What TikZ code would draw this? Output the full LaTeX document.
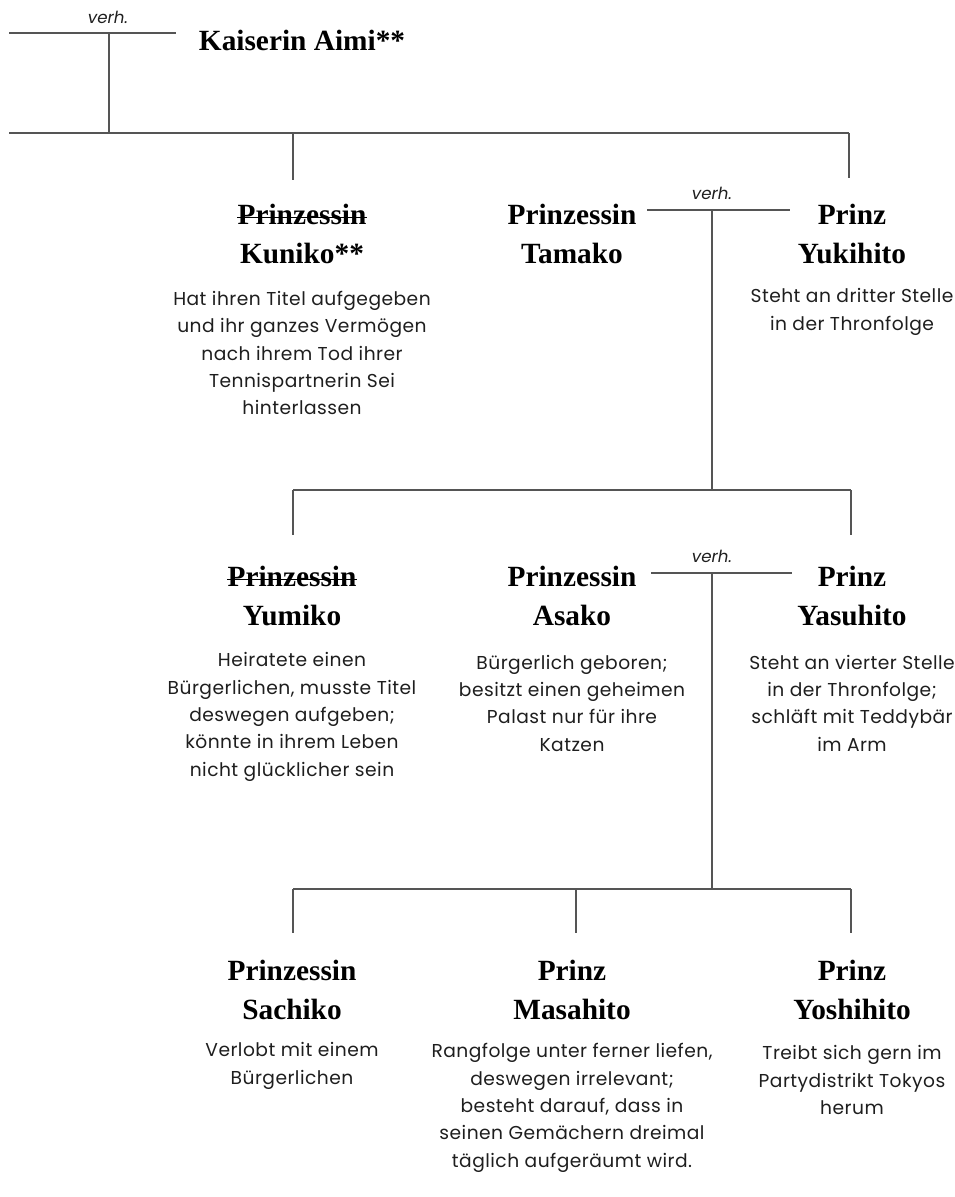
\documentclass[tikz,border=0pt]{standalone}
\usepackage{fontspec}
\setmainfont{Poppins}
\newfontfamily\namefont{Liberation Serif}
\newfontfamily\descfont{Poppins}[LetterSpace=2.5]
\usepackage{tikz}
\usetikzlibrary{positioning}
\definecolor{lineGray}{HTML}{555555}
\definecolor{txtDark}{HTML}{1E1E1E}
\tikzset{nm/.style={inner sep=0pt, align=center, text=black,
  font=\namefont\bfseries\fontsize{22}{29}\selectfont}}
\tikzset{ds/.style={inner sep=0pt, align=center, text=txtDark,
  font=\descfont\fontsize{14}{20.5}\selectfont}}
\tikzset{vh/.style={inner sep=0pt, text=txtDark,
  font=\itshape\fontsize{12.5}{14}\selectfont}}
\tikzset{ln/.style={draw, lineGray, line width=1pt}}
\tikzset{st/.style={draw, black, line width=1.1pt}}

\begin{document}
\begin{tikzpicture}[x=0.75pt,y=-0.75pt]
        \useasboundingbox (0,0) rectangle (955,1197);
        %% Kaiserin
        \coordinate (k0) at (9,33);
        \coordinate (k1) at (176,33);
        \coordinate (k2) at (109,33);
        \coordinate (k3) at (109,133);
        \node (v0) at (108,17) [vh] {verh.};
        \node (aimi) at (302,40) [nm] {Kaiserin Aimi**};
        \draw [ln] (k0) to (k1);
        \draw [ln] (k2) to (k3);
        %% erste Generation
        \coordinate (r0) at (9,133);
        \coordinate (r1) at (849,133);
        \coordinate (kt) at (293,133);
        \coordinate (kb) at (293,180);
        \coordinate (yb) at (849,178);
        \draw [ln] (r0) to (r1);
        \draw [ln] (kt) to (kb);
        \draw [ln] (r1) to (yb);
        \node (kuniko) at (302,234) [nm] {Prinzessin\\Kuniko**};
        \node (tamako) at (572,234) [nm] {Prinzessin\\Tamako};
        \node (yukihito) at (852,234) [nm] {Prinz\\Yukihito};
        \draw [st] ([yshift=-10pt]kuniko.north west) to ([yshift=-10pt]kuniko.north east);
        \node (kunikoD) at (302,353) [ds] {Hat ihren Titel aufgegeben\\und ihr ganzes Verm\"ogen\\nach ihrem Tod ihrer\\Tennispartnerin Sei\\hinterlassen};
        \node (yukihitoD) at (852,312) [ds] {Steht an dritter Stelle\\in der Thronfolge};
        \coordinate (e0) at (647,210);
        \coordinate (e1) at (790,210);
        \coordinate (e2) at (712,210);
        \coordinate (e3) at (712,490);
        \node (v1) at (712,193) [vh] {verh.};
        \draw [ln] (e0) to (e1);
        \draw [ln] (e2) to (e3);
        %% zweite Generation
        \coordinate (s0) at (293,490);
        \coordinate (s1) at (851,490);
        \coordinate (s2) at (293,535);
        \coordinate (s3) at (851,535);
        \draw [ln] (s0) to (s1);
        \draw [ln] (s0) to (s2);
        \draw [ln] (s1) to (s3);
        \node (yumiko) at (292,596) [nm] {Prinzessin\\Yumiko};
        \node (asako) at (572,596) [nm] {Prinzessin\\Asako};
        \node (yasuhito) at (852,596) [nm] {Prinz\\Yasuhito};
        \draw [st] ([yshift=-10pt]yumiko.north west) to ([yshift=-10pt]yumiko.north east);
        \node (yumikoD) at (292,717) [ds] {Heiratete einen\\B\"urgerlichen, musste Titel\\deswegen aufgeben;\\k\"onnte in ihrem Leben\\nicht gl\"ucklicher sein};
        \node (asakoD) at (572,703) [ds] {B\"urgerlich geboren;\\besitzt einen geheimen\\Palast nur f\"ur ihre\\Katzen};
        \node (yasuhitoD) at (852,703) [ds] {Steht an vierter Stelle\\in der Thronfolge;\\schl\"aft mit Teddyb\"ar\\im Arm};
        \coordinate (f0) at (651,573);
        \coordinate (f1) at (792,573);
        \coordinate (f2) at (712,573);
        \coordinate (f3) at (712,889);
        \node (v2) at (712,556) [vh] {verh.};
        \draw [ln] (f0) to (f1);
        \draw [ln] (f2) to (f3);
        %% dritte Generation
        \coordinate (t0) at (293,889);
        \coordinate (t1) at (851,889);
        \coordinate (tm) at (576,889);
        \coordinate (t2) at (293,933);
        \coordinate (t3) at (851,933);
        \coordinate (t4) at (576,933);
        \draw [ln] (t0) to (t1);
        \draw [ln] (t0) to (t2);
        \draw [ln] (tm) to (t4);
        \draw [ln] (t1) to (t3);
        \node (sachiko) at (292,990) [nm] {Prinzessin\\Sachiko};
        \node (masahito) at (572,990) [nm] {Prinz\\Masahito};
        \node (yoshihito) at (852,990) [nm] {Prinz\\Yoshihito};
        \node (sachikoD) at (292,1066) [ds] {Verlobt mit einem\\B\"urgerlichen};
        \node (masahitoD) at (572,1108) [ds] {Rangfolge unter ferner liefen,\\deswegen irrelevant;\\besteht darauf, dass in\\seinen Gem\"achern dreimal\\t\"aglich aufger\"aumt wird.};
        \node (yoshihitoD) at (852,1080) [ds] {Treibt sich gern im\\Partydistrikt Tokyos\\herum};
    \end{tikzpicture}
\end{document}
